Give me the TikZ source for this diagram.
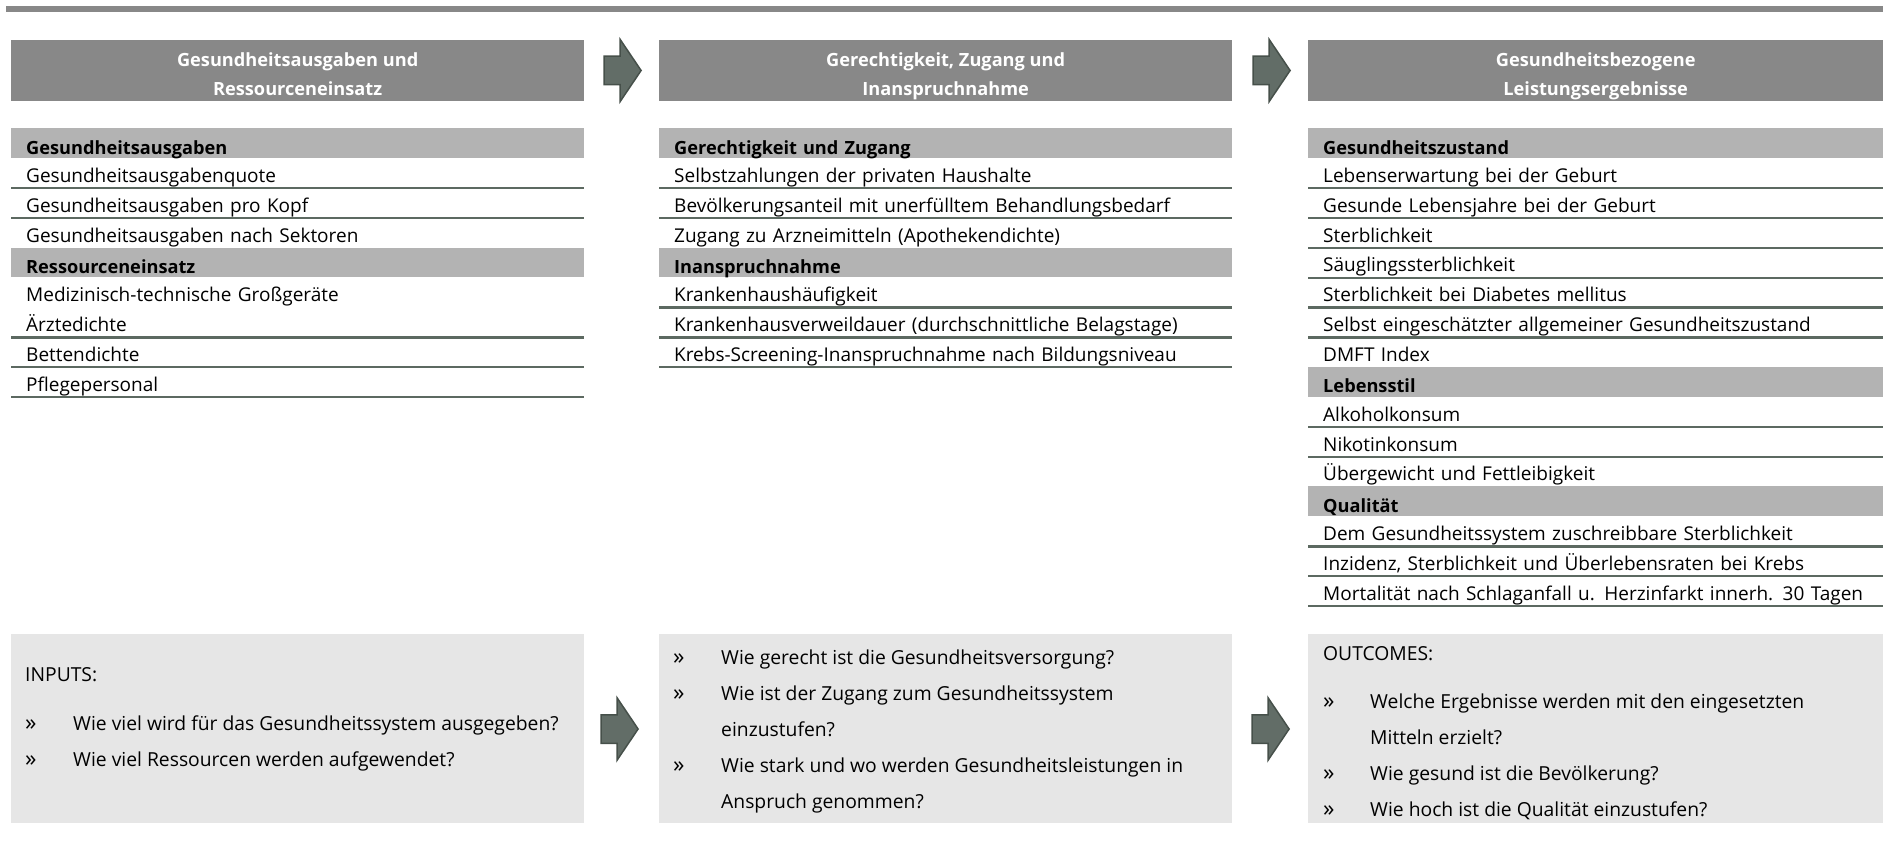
\documentclass[tikz,border=0pt]{standalone}
\usepackage{fontspec}
\setmainfont{Open Sans}
\usepackage{tikz}
\usetikzlibrary{positioning, shapes.arrows}
\usepackage{xcolor}
\definecolor{colHead}{RGB}{136, 136, 136}
\definecolor{colSect}{RGB}{179, 179, 179}
\definecolor{colBox}{RGB}{230, 230, 230}
\definecolor{colRule}{RGB}{92, 105, 97}
\definecolor{colArrow}{RGB}{98, 109, 103}
\definecolor{colArrowDark}{RGB}{70, 80, 74}
% zweizeiliger Kopftext mit festen Abstaenden
\newcommand{\headtxt}[2]{\rule{0pt}{25pt}#1\\#2\rule[-5pt]{0pt}{5pt}}

\begin{document}
\begin{tikzpicture}[
    x=1pt, y=-1pt,
    font=\fontsize{19}{22}\selectfont,
    head_style/.style={fill=colHead, text=white, anchor=north west,
      minimum width=573pt, minimum height=61pt, inner sep=0pt,
      align=center, font=\bfseries\fontsize{18.2}{29}\selectfont},
    row_style/.style={anchor=north west, inner xsep=15pt, inner ysep=0pt,
      text width=543pt, align=left},
    sect_style/.style={row_style, fill=colSect, font=\bfseries\fontsize{18.2}{22}\selectfont,
      text height=25.86pt, text depth=4pt},
    item_style/.style={row_style, text height=24.36pt, text depth=5.5pt},
    rule_style/.style={draw=colRule, line width=2.3pt},
    box_style/.style={fill=colBox, anchor=north west, inner sep=0pt,
      minimum width=573pt, minimum height=189pt},
    line_style/.style={anchor=base west, inner sep=0pt,
      font=\fontsize{19.3}{22}\selectfont},
    bullet_style/.style={anchor=base west, inner sep=0pt,
      font=\fontsize{23}{22}\selectfont},
    arrow_style/.style={single arrow, anchor=tip, fill=colArrow,
      draw=colArrowDark, line width=1.5pt, inner xsep=0pt, inner ysep=13.5pt,
      minimum height=37pt,
      single arrow head extend=17pt, single arrow tip angle=112}
]
    \useasboundingbox (0,0) rectangle (1883,864);

    % --- Balken oben ---
    \fill[colHead] (6,6) rectangle (1883,12);

    % --- Kopfzeilen ---
    \node[head_style] (head1) at (11,40)
        {\headtxt{Gesundheitsausgaben und}{Ressourceneinsatz}};
    \node[head_style] (head2) at (659,40)
        {\headtxt{Gerechtigkeit, Zugang und}{Inanspruchnahme}};
    \node[head_style, minimum width=575pt] (head3) at (1308,40)
        {\headtxt{Gesundheitsbezogene}{Leistungsergebnisse}};

    \node[arrow_style] (arr1) at (642,70.5) {};
    \node[arrow_style] (arr2) at (1291,70.5) {};

    % --- Spalte 1 ---
    \foreach \sty/\txt [count=\k from 0] in {
      sect_style/Gesundheitsausgaben,
      item_style/Gesundheitsausgabenquote,
      item_style/Gesundheitsausgaben pro Kopf,
      item_style/Gesundheitsausgaben nach Sektoren,
      sect_style/Ressourceneinsatz,
      item_style/Medizinisch-technische Großgeräte,
      item_style/Ärztedichte,
      item_style/Bettendichte,
      item_style/Pflegepersonal}{
      \node[\sty] (c1-\k) at (11,128+\k*29.857) {\txt};
    }
    \foreach \k in {1,2,6,7,8}
      \draw[rule_style] (c1-\k.south west) -- (c1-\k.south east);

    % --- Spalte 2 ---
    \foreach \sty/\txt [count=\k from 0] in {
      sect_style/Gerechtigkeit und Zugang,
      item_style/Selbstzahlungen der privaten Haushalte,
      item_style/Bevölkerungsanteil mit unerfülltem Behandlungsbedarf,
      item_style/Zugang zu Arzneimitteln (Apothekendichte),
      sect_style/Inanspruchnahme,
      item_style/Krankenhaushäufigkeit,
      item_style/Krankenhausverweildauer (durchschnittliche Belagstage),
      item_style/Krebs-Screening-Inanspruchnahme nach Bildungsniveau}{
      \node[\sty] (c2-\k) at (659,128+\k*29.857) {\txt};
    }
    \foreach \k in {1,2,5,6,7}
      \draw[rule_style] (c2-\k.south west) -- (c2-\k.south east);

    % --- Spalte 3 ---
    \foreach \sty/\txt [count=\k from 0] in {
      sect_style/Gesundheitszustand,
      item_style/Lebenserwartung bei der Geburt,
      item_style/Gesunde Lebensjahre bei der Geburt,
      item_style/Sterblichkeit,
      item_style/Säuglingssterblichkeit,
      item_style/Sterblichkeit bei Diabetes mellitus,
      item_style/Selbst eingeschätzter allgemeiner Gesundheitszustand,
      item_style/DMFT Index,
      sect_style/Lebensstil,
      item_style/Alkoholkonsum,
      item_style/Nikotinkonsum,
      item_style/Übergewicht und Fettleibigkeit,
      sect_style/Qualität,
      item_style/Dem Gesundheitssystem zuschreibbare Sterblichkeit,
      item_style/{Inzidenz, Sterblichkeit und Überlebensraten bei Krebs},
      item_style/Mortalität nach Schlaganfall u. Herzinfarkt innerh. 30 Tagen}{
      \node[\sty, text width=545pt] (c3-\k) at (1308,128+\k*29.857) {\txt};
    }
    \foreach \k in {1,2,3,4,5,6,9,10,13,14,15}
      \draw[rule_style] (c3-\k.south west) -- (c3-\k.south east);

    % --- Fragen unten ---
    \node[box_style] (box1) at (11,634) {};
    \node[box_style] (box2) at (659,634) {};
    \node[box_style, minimum width=575pt] (box3) at (1308,634) {};

    \node[arrow_style] (arr3) at (639,729) {};
    \node[arrow_style] (arr4) at (1290,729) {};

    \node[line_style] (in) at (25,681) {INPUTS:};
    \foreach \yy/\bb/\txt [count=\k] in {
      730/»/Wie viel wird für das Gesundheitssystem ausgegeben?,
      766/»/Wie viel Ressourcen werden aufgewendet?}{
      \node[bullet_style] (q1b-\k) at (25,\yy) {\bb};
      \node[line_style] (q1-\k) at (73,\yy) {\txt};
    }

    \foreach \yy/\bb/\txt [count=\k] in {
      664.3/»/Wie gerecht ist die Gesundheitsversorgung?,
      700.3/»/Wie ist der Zugang zum Gesundheitssystem,
      736.3//einzustufen?,
      772.3/»/Wie stark und wo werden Gesundheitsleistungen in,
      808.3//Anspruch genommen?}{
      \node[bullet_style] (q2b-\k) at (673,\yy) {\bb};
      \node[line_style] (q2-\k) at (721,\yy) {\txt};
    }

    \node[line_style] (out) at (1323,660) {OUTCOMES:};
    \foreach \yy/\bb/\txt [count=\k] in {
      708.3/»/Welche Ergebnisse werden mit den eingesetzten,
      744.3//Mitteln erzielt?,
      780.3/»/Wie gesund ist die Bevölkerung?,
      816.3/»/Wie hoch ist die Qualität einzustufen?}{
      \node[bullet_style] (q3b-\k) at (1323,\yy) {\bb};
      \node[line_style] (q3-\k) at (1370,\yy) {\txt};
    }
\end{tikzpicture}
\end{document}
